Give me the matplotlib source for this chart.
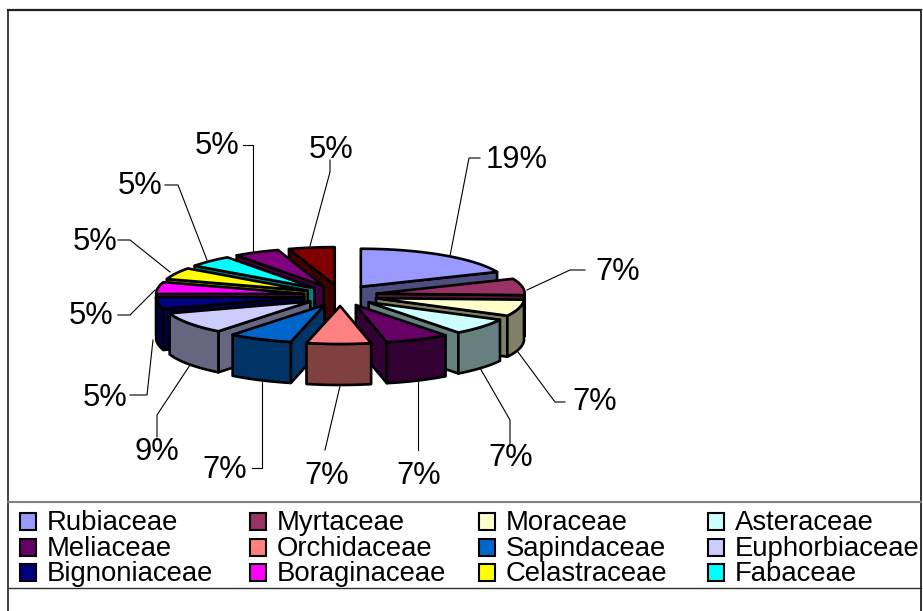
import numpy as np
import matplotlib
matplotlib.use("Agg")
import matplotlib.pyplot as plt
from matplotlib.patches import Polygon, Rectangle
from matplotlib.colors import to_rgb

# ---- data ----
families = ["Rubiaceae", "Myrtaceae", "Moraceae", "Asteraceae",
            "Meliaceae", "Orchidaceae", "Sapindaceae", "Euphorbiaceae",
            "Bignoniaceae", "Boraginaceae", "Celastraceae", "Fabaceae"]
shares = [18.6, 7.0, 7.0, 7.0, 7.0, 7.0, 7.0, 9.3, 5.0, 5.0, 5.0, 5.0, 5.0, 5.0]
colors = ["#9999FF", "#993366", "#FFFFCC", "#CCFFFF", "#660066", "#FF8080", "#0066CC",
          "#CCCCFF", "#000080", "#FF00FF", "#FFFF00", "#00FFFF", "#800080", "#800000"]

# ---- layout (pixels) ----
W, H = 923, 611
CX, CY = 340.5, 295.5
RX, RY = 148.0, 38.0
EX, EY = 36.8, 10.5
DEPTH = 41.0
LW = 1.9
label_centres = [(517, 159.5), (618, 271.5), (595, 402.5), (511, 457.5), (419, 476.5), (327, 476.5), (225, 469.5),
                 (157, 452.5), (105, 397.5), (91, 315.5), (95, 241.5), (140, 186.5), (217, 146.5), (331, 149.5)]
leaders = [[(480, 158), (469, 158), (450, 256)],
           [(585, 270), (570, 270), (527, 290)],
           [(565, 402), (555, 402), (518, 352)],
           [(510, 445), (510, 420), (480, 368)],
           [(418, 450), (418, 382)],
           [(325, 450), (340, 386)],
           [(252, 468), (262, 468), (262, 382)],
           [(157, 437), (157, 415), (190, 365)],
           [(130, 395), (147, 395), (153, 340)],
           [(118, 315), (130, 315), (155, 290)],
           [(118, 240), (130, 240), (170, 272)],
           [(165, 185), (178, 185), (207, 260)],
           [(243, 145), (253, 145), (253, 253)],
           [(330, 160), (330, 172), (310, 246)]]
legend_x = [20, 249.5, 479, 708]
legend_y = [521.5, 547, 572.5]

plt.rcParams["font.family"] = ["Liberation Sans", "DejaVu Sans"]
fig = plt.figure(figsize=(W / 100, H / 100), dpi=100)
ax = fig.add_axes([0, 0, 1, 1])
ax.set_xlim(0, W)
ax.set_ylim(H, 0)
ax.axis("off")

# frame
ax.plot([8, 8], [H, 10], color="#404040", lw=1.4, solid_capstyle="butt")
ax.plot([8, 921], [10, 10], color="#202020", lw=1.6)
ax.plot([921, 921], [10, H], color="#303030", lw=1.4, solid_capstyle="butt")
ax.plot([8, 921], [502, 502], color="#808080", lw=1.5)
ax.plot([8, 921], [587.5, 587.5], color="#303030", lw=1.0)


def shade(c, f=0.5):
    return tuple(v * f for v in to_rgb(c))


def rim(a, x0, y0):
    return np.column_stack([x0 + RX * np.sin(a), y0 - RY * np.cos(a)])


edges = np.radians(np.cumsum([0] + shares) / sum(shares) * 360)
slices = list(range(len(shares)))
mids = (edges[:-1] + edges[1:]) / 2
for i in sorted(slices, key=lambda k: -np.cos(mids[k])):
    a0, a1 = edges[i], edges[i + 1]
    m = mids[i]
    x0, y0 = CX + EX * np.sin(m), CY - EY * np.cos(m)
    apex = np.array([x0, y0])
    down = np.array([0, DEPTH])
    side = shade(colors[i])
    style = dict(edgecolor="black", lw=LW, joinstyle="round", facecolor=side)
    # radial walls that face the viewer
    for a, normal in ((a0, a0 - np.pi / 2), (a1, a1 + np.pi / 2)):
        if np.cos(normal) < -1e-6:
            p = rim(np.array([a]), x0, y0)[0]
            ax.add_patch(Polygon([apex, p, p + down, apex + down], closed=True, **style))
    # outer wall for the front half of the rim
    lo, hi = max(a0, np.pi / 2), min(a1, 3 * np.pi / 2)
    if hi > lo:
        arc = rim(np.linspace(lo, hi, 40), x0, y0)
        ax.add_patch(Polygon(np.vstack([arc, arc[::-1] + down]), closed=True, **style))
    # top face
    arc = rim(np.linspace(a0, a1, 60), x0, y0)
    ax.add_patch(Polygon(np.vstack([apex, arc]), closed=True, edgecolor="black", lw=LW,
                         joinstyle="round", facecolor=colors[i]))

# leaders and percentage labels
for pts, (tx, ty), v in zip(leaders, label_centres, shares):
    xs, ys = zip(*pts)
    ax.plot(xs, ys, color="black", lw=0.8, zorder=1)
    ax.text(tx, ty, f"{round(v)}%", fontsize=22.2, ha="center", va="center", color="black")

# legend
for n, name in enumerate(families):
    col, row = n % 4, n // 4
    x, y = legend_x[col], legend_y[row]
    ax.add_patch(Rectangle((x, y - 8.5), 16, 17, facecolor=colors[n], edgecolor="black", lw=1.5))
    ax.text(x + 27, y - 1.5, name, fontsize=19.85, ha="left", va="center_baseline", color="black")

fig.savefig("out.png", dpi=100)
